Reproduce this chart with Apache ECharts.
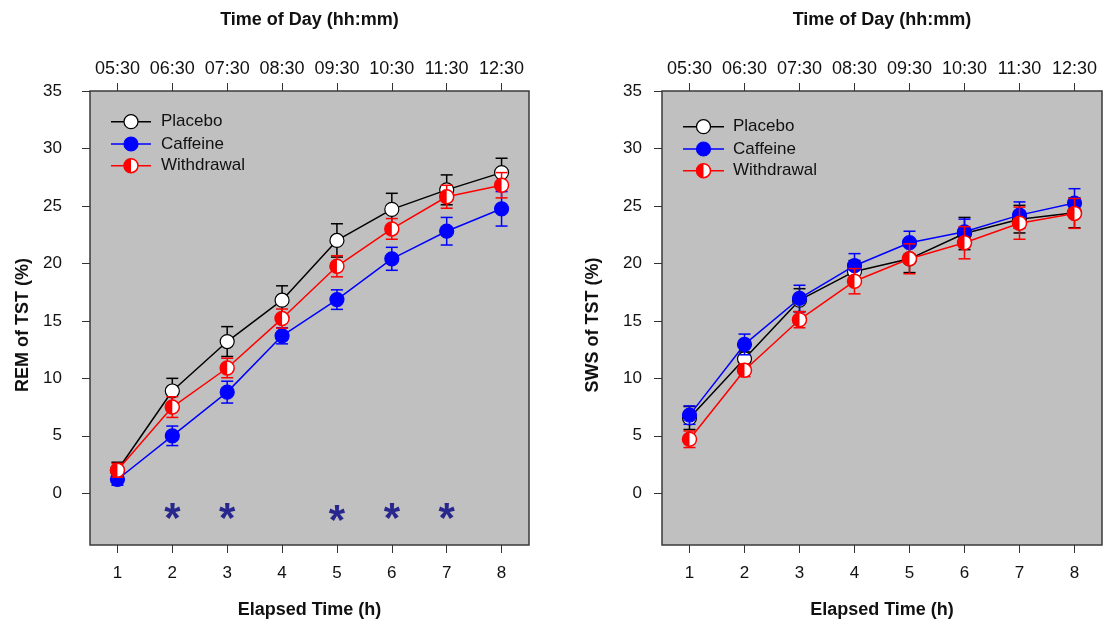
<!DOCTYPE html>
<html>
<head>
<meta charset="utf-8">
<style>
html, body { margin: 0; padding: 0; background: #fff; }
#chart { width: 1105px; height: 627px; }
</style>
<script src="https://cdn.jsdelivr.net/npm/echarts@6/dist/echarts.min.js"></script>
</head>
<body>
<div id="chart"></div>
<script>
var hours = [1, 2, 3, 4, 5, 6, 7, 8];
var timeLabels = ['05:30', '06:30', '07:30', '08:30', '09:30', '10:30', '11:30', '12:30'];
var yTicks = [0, 5, 10, 15, 20, 25, 30, 35];

// REM panel
var remPlacebo = [2.0, 8.9, 13.2, 16.8, 22.0, 24.7, 26.4, 27.9];
var remPlaceboSe = [0.7, 1.1, 1.3, 1.25, 1.45, 1.4, 1.3, 1.25];
var remCaffeine = [1.2, 5.0, 8.8, 13.7, 16.85, 20.4, 22.8, 24.75];
var remCaffeineSe = [0.5, 0.85, 0.95, 0.7, 0.85, 1.0, 1.2, 1.5];
var remWithdrawal = [2.0, 7.5, 10.9, 15.2, 19.75, 23.0, 25.8, 26.8];
var remWithdrawalSe = [0.6, 0.9, 0.85, 0.83, 0.92, 0.9, 1.0, 1.1];

// significance marks (REM panel)
var starHours = [2, 3, 5, 6, 7];
var starLevels = [-1.8, -1.8, -2.05, -1.8, -1.8];

// SWS panel
var swsPlacebo = [6.55, 11.7, 16.8, 19.3, 20.4, 22.6, 23.85, 24.4];
var swsPlaceboSe = [1.0, 0.6, 1.0, 0.95, 1.2, 1.4, 1.2, 1.3];
var swsCaffeine = [6.8, 12.95, 16.95, 19.8, 21.8, 22.75, 24.2, 25.25];
var swsCaffeineSe = [0.8, 0.9, 1.15, 1.05, 1.0, 1.1, 1.15, 1.25];
var swsWithdrawal = [4.7, 10.7, 15.1, 18.45, 20.4, 21.8, 23.5, 24.35];
var swsWithdrawalSe = [0.72, 0.55, 0.7, 1.1, 1.3, 1.4, 1.4, 1.3];

var FONT = 'Arial, "Liberation Sans", sans-serif';
var BLACK = '#000000', BLUE = '#0000ff', RED = '#ff0000';
var R = 7;

var chart = echarts.init(document.getElementById('chart'), null, { renderer: 'canvas' });

function pairs(ys, se) {
  return hours.map(function(h, i) { return se ? [h, ys[i], se[i]] : [h, ys[i]]; });
}

function markerShapes(cx, cy, kind) {
  if (kind === 'open') {
    return [{ type: 'circle', shape: { cx: cx, cy: cy, r: R }, style: { fill: '#fff', stroke: BLACK, lineWidth: 1.2 } }];
  }
  if (kind === 'filled') {
    return [{ type: 'circle', shape: { cx: cx, cy: cy, r: R }, style: { fill: BLUE, stroke: BLUE, lineWidth: 1.2 } }];
  }
  return [
    { type: 'circle', shape: { cx: cx, cy: cy, r: R }, style: { fill: '#fff', stroke: RED, lineWidth: 1.5 } },
    { type: 'sector', shape: { cx: cx, cy: cy, r0: 0, r: R, startAngle: Math.PI / 2, endAngle: Math.PI * 3 / 2, clockwise: true },
      style: { fill: RED } }
  ];
}

function lineSeries(idx, ys, color, z) {
  return {
    type: 'line', xAxisIndex: idx * 2, yAxisIndex: idx, data: pairs(ys), z: z,
    symbol: 'none', lineStyle: { color: color, width: 1.5 }, silent: true
  };
}

function errorSeries(idx, ys, se, color, z) {
  return {
    type: 'custom', xAxisIndex: idx * 2, yAxisIndex: idx, data: pairs(ys, se), silent: true, z: z,
    renderItem: function(params, api) {
      var x = api.value(0), y = api.value(1), e = api.value(2);
      var top = api.coord([x, y + e]), bot = api.coord([x, y - e]);
      var w = 6, st = { stroke: color, lineWidth: 1.5 };
      return { type: 'group', children: [
        { type: 'line', shape: { x1: top[0], y1: top[1], x2: bot[0], y2: bot[1] }, style: st },
        { type: 'line', shape: { x1: top[0] - w, y1: top[1], x2: top[0] + w, y2: top[1] }, style: st },
        { type: 'line', shape: { x1: bot[0] - w, y1: bot[1], x2: bot[0] + w, y2: bot[1] }, style: st }
      ] };
    }
  };
}

function markerSeries(idx, ys, kind, z) {
  return {
    type: 'custom', xAxisIndex: idx * 2, yAxisIndex: idx, data: pairs(ys), silent: true, z: z,
    renderItem: function(params, api) {
      var p = api.coord([api.value(0), api.value(1)]);
      return { type: 'group', children: markerShapes(p[0], p[1], kind) };
    }
  };
}

function group(idx, ys, se, color, kind, z) {
  return [lineSeries(idx, ys, color, z), errorSeries(idx, ys, se, color, z), markerSeries(idx, ys, kind, z + 1)];
}

function bottomAxis(g) {
  return {
    type: 'value', gridIndex: g, position: 'bottom', min: 0.5, max: 8.5,
    axisLine: { show: false, onZero: false },
    axisTick: { show: true, length: 8, customValues: hours, lineStyle: { color: '#333', width: 1 } },
    axisLabel: { customValues: hours, margin: 20, fontSize: 17, color: '#111', fontFamily: FONT },
    splitLine: { show: false },
    name: 'Elapsed Time (h)', nameLocation: 'middle', nameGap: 56,
    nameTextStyle: { fontSize: 18, fontWeight: 'bold', color: '#111', fontFamily: FONT }
  };
}

function topAxis(g) {
  return {
    type: 'value', gridIndex: g, position: 'top', min: 0.5, max: 8.5,
    axisLine: { show: false, onZero: false },
    axisTick: { show: true, length: 8, customValues: hours, lineStyle: { color: '#333', width: 1 } },
    axisLabel: {
      customValues: hours, margin: 13, fontSize: 18, color: '#111', fontFamily: FONT,
      formatter: function(v) { return timeLabels[hours.indexOf(v)]; }
    },
    splitLine: { show: false },
    name: 'Time of Day (hh:mm)', nameLocation: 'middle', nameGap: 62,
    nameTextStyle: { fontSize: 18, fontWeight: 'bold', color: '#111', fontFamily: FONT }
  };
}

function leftAxis(g, name, margin, gap) {
  return {
    type: 'value', gridIndex: g, min: -4.5, max: 35,
    axisLine: { show: false, onZero: false },
    axisTick: { show: true, length: 8, customValues: yTicks, lineStyle: { color: '#333', width: 1 } },
    axisLabel: { customValues: yTicks, margin: margin, fontSize: 17, color: '#111', fontFamily: FONT },
    splitLine: { show: false },
    name: name, nameLocation: 'middle', nameGap: gap,
    nameTextStyle: { fontSize: 18, fontWeight: 'bold', color: '#111', fontFamily: FONT, padding: [0, 0, 0, -14] }
  };
}

function legendGraphics(x1, x2, textX, rows) {
  var items = [['Placebo', BLACK, 'open'], ['Caffeine', BLUE, 'filled'], ['Withdrawal', RED, 'half']];
  var out = [];
  items.forEach(function(it, i) {
    var y = rows[i], cx = (x1 + x2) / 2;
    out.push({ type: 'line', shape: { x1: x1, y1: y, x2: x2, y2: y }, style: { stroke: it[1], lineWidth: 1.5 } });
    out.push({ type: 'group', children: markerShapes(cx, y, it[2]) });
    out.push({ type: 'text', x: textX, y: y, style: { text: it[0], font: '17px ' + FONT, fill: '#111', verticalAlign: 'middle' } });
  });
  return out;
}

var gridBase = { show: true, backgroundColor: '#c0c0c0', borderColor: '#3a3a3a', borderWidth: 1.5, top: 91, bottom: 82 };

var series = []
  .concat(group(0, remPlacebo, remPlaceboSe, BLACK, 'open', 2))
  .concat(group(0, remCaffeine, remCaffeineSe, BLUE, 'filled', 4))
  .concat(group(0, remWithdrawal, remWithdrawalSe, RED, 'half', 6))
  .concat(group(1, swsPlacebo, swsPlaceboSe, BLACK, 'open', 2))
  .concat(group(1, swsCaffeine, swsCaffeineSe, BLUE, 'filled', 4))
  .concat(group(1, swsWithdrawal, swsWithdrawalSe, RED, 'half', 6));

series.push({
  type: 'scatter', xAxisIndex: 0, yAxisIndex: 0, silent: true, z: 8,
  data: starHours.map(function(h, i) { return [h, starLevels[i]]; }),
  symbolSize: 1, itemStyle: { color: 'rgba(0,0,0,0)' },
  label: { show: true, position: 'inside', formatter: '*', fontSize: 42, fontWeight: 'bold',
    color: '#000080', fontFamily: FONT, offset: [0, 6] }
});

chart.setOption({
  animation: false,
  backgroundColor: '#fff',
  grid: [
    Object.assign({}, gridBase, { left: 90, right: 576 }),
    Object.assign({}, gridBase, { left: 662, right: 3 })
  ],
  xAxis: [bottomAxis(0), topAxis(0), bottomAxis(1), topAxis(1)],
  yAxis: [leftAxis(0, 'REM of TST (%)', 28, 58), leftAxis(1, 'SWS of TST (%)', 20, 60)],
  series: series,
  graphic: legendGraphics(111, 151, 161, [121.7, 144, 165.7])
    .concat(legendGraphics(683, 724, 733, [126.7, 149, 170.7]))
});
window.addEventListener('resize', function() { chart.resize(); });
</script>
</body>
</html>
